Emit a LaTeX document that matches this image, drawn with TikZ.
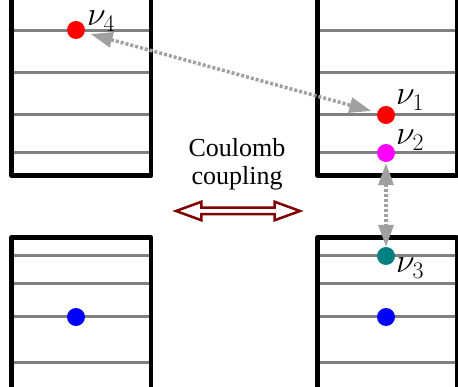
\RequirePackage{fix-cm}
\documentclass[tikz,border=0pt]{standalone}
\usepackage{fontspec}
\setmainfont{Liberation Serif}
\usetikzlibrary{arrows.meta,positioning,shapes.arrows}
\definecolor{levgray}{RGB}{128,128,128}
\definecolor{hopgray}{RGB}{160,160,160}
\definecolor{myred}{RGB}{255,0,0}
\definecolor{mymagenta}{RGB}{255,0,255}
\definecolor{myteal}{RGB}{0,128,128}
\definecolor{myblue}{RGB}{0,0,255}
\definecolor{mymaroon}{RGB}{128,0,0}
\tikzset{
  wall/.style={line width=4.5pt,line join=round},
  level/.style={levgray,line width=3pt},
  elec/.style={circle,inner sep=0pt,minimum size=18pt},
  lab/.style={anchor=base west,inner sep=0pt,font=\fontsize{34}{40}\selectfont},
  hop/.style={hopgray,line width=3.5pt,dash pattern=on 3pt off 2pt,
    {Triangle[length=22pt,width=15pt]}-{Triangle[length=22pt,width=15pt]}},
  dblarrow/.style={double arrow,draw=mymaroon,line width=2.5pt,inner sep=2pt,
    minimum height=124pt,double arrow tip angle=40,double arrow head extend=6pt},
}
\begin{document}
\begin{tikzpicture}[x=1pt,y=-1pt]
      \useasboundingbox (0,0) rectangle (458,387);
      \def\bw{139.5}
      \foreach \x in {11.5,317.5}{
        \foreach \y in {31,73,115,153,256,284,317,363}{
          \draw[level] (\x,\y) -- (\x+\bw,\y);}
        \draw[wall] (\x,-5) |- (\x+\bw,175.5) -- (\x+\bw,-5);
        \draw[wall] (\x,392) |- (\x+\bw,237.5) -- (\x+\bw,392);}
      \node[elec,fill=myred] (nu4) at (76,30) {};
      \node[elec,fill=myred] (nu1) at (386,115) {};
      \node[elec,fill=mymagenta] (nu2) at (386,153) {};
      \node[elec,fill=myteal] (nu3) at (386,256) {};
      \node[elec,fill=myblue] (eL) at (76,317) {};
      \node[elec,fill=myblue] (eR) at (386,317) {};
      \node[lab] (l4) at ([shift={(11,-4)}]nu4.center) {$\nu_4$};
      \node[lab] (l1) at ([shift={(10,-10)}]nu1.center) {$\nu_1$};
      \node[lab] (l2) at ([shift={(10,-8)}]nu2.center) {$\nu_2$};
      \node[lab] (l3) at ([shift={(10,17)}]nu3.center) {$\nu_3$};
      \draw[hop,shorten <=6pt,shorten >=6pt] (nu4) -- (nu1);
      \draw[hop,shorten <=1pt] (nu2) -- (nu3);
      \node[font=\fontsize{26}{28}\selectfont,align=center,anchor=base]
        (cc) at (237,185) {Coulomb\\coupling};
      \node[dblarrow] (cpl) at (238,211) {};
\end{tikzpicture}
\end{document}
